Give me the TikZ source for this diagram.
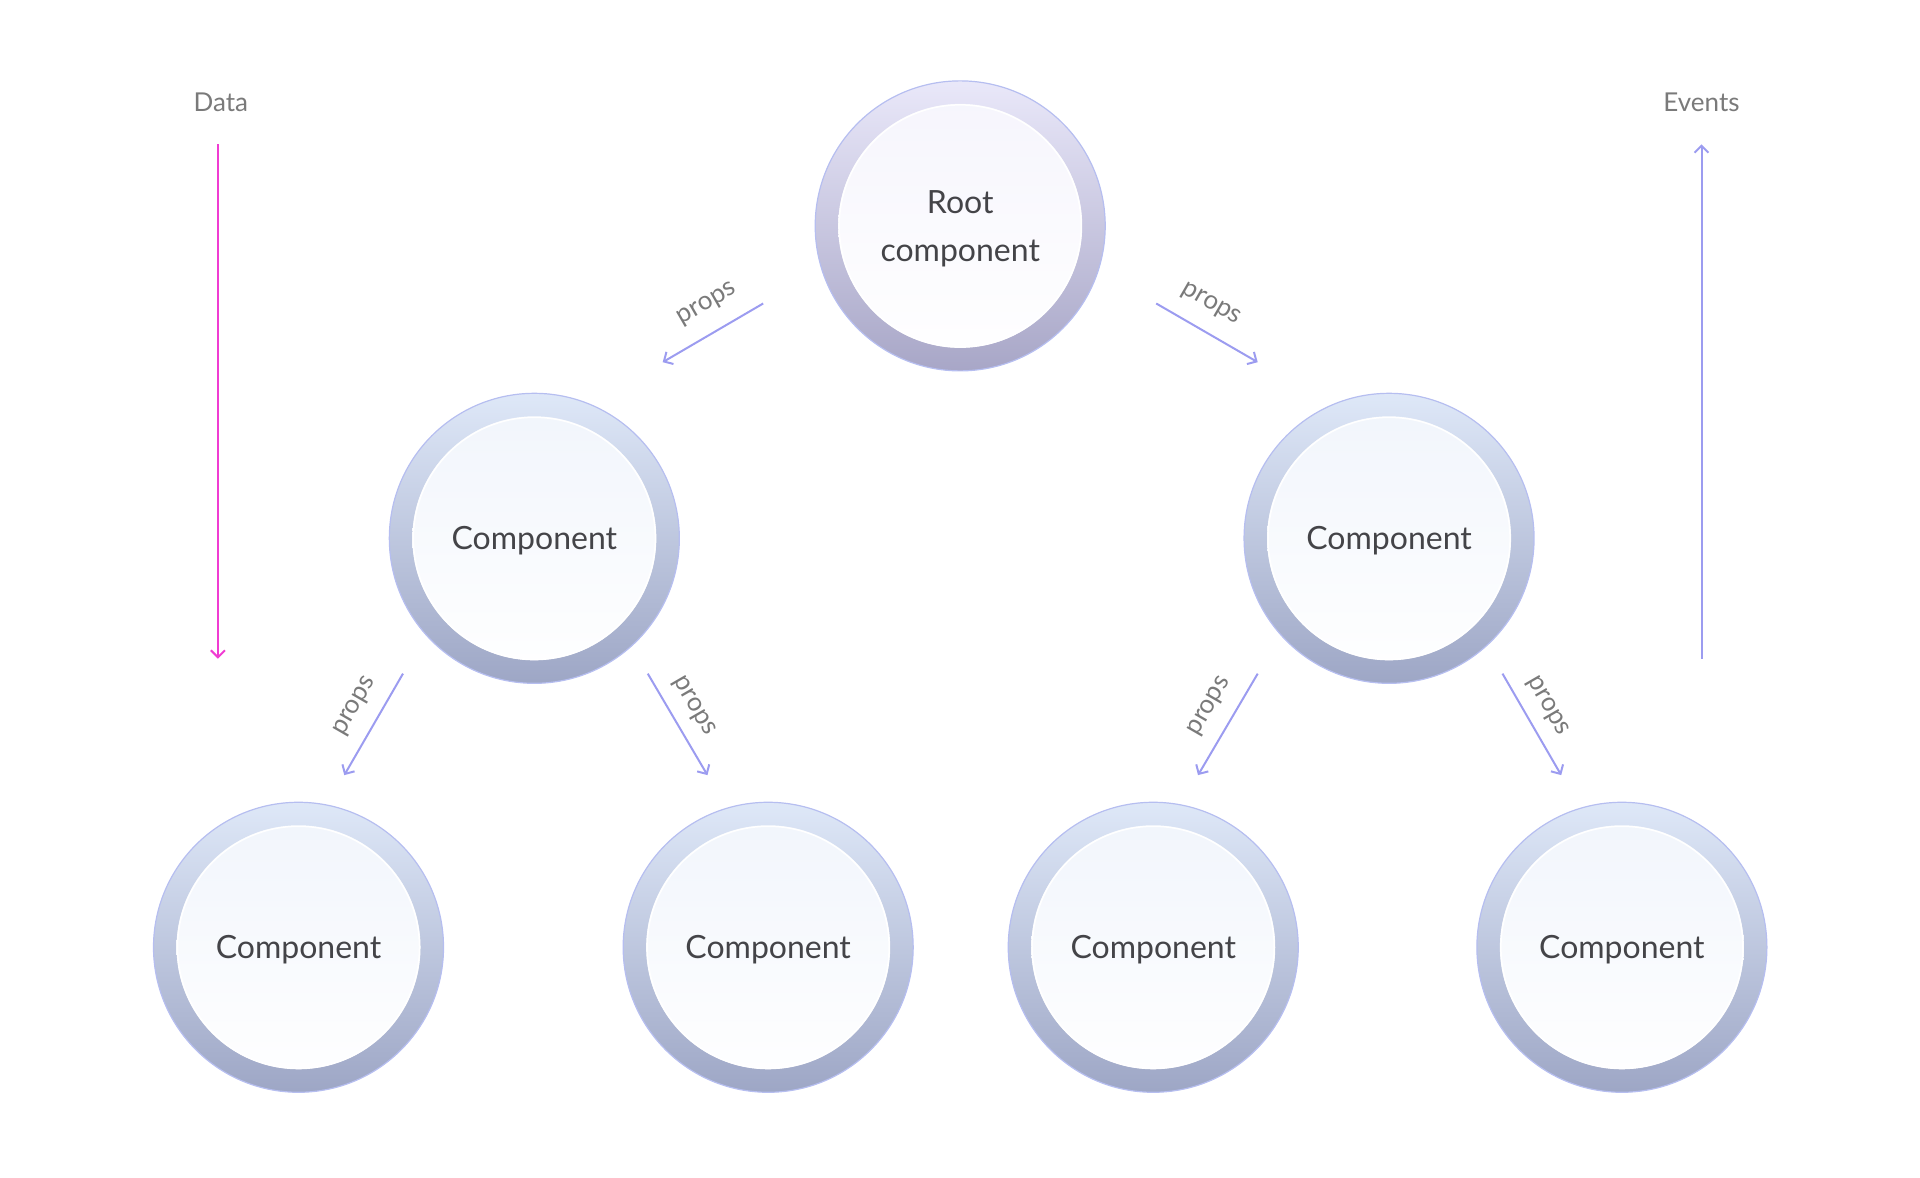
\documentclass[tikz,border=0pt]{standalone}
\usepackage{fontspec}
\setmainfont{Lato}
\usetikzlibrary{arrows.meta}
\definecolor{arr}{HTML}{9C9CF0}
\definecolor{mag}{HTML}{F03CD2}
\definecolor{lbl}{HTML}{7A7A7A}
\definecolor{txt}{HTML}{444448}
\definecolor{rim}{HTML}{B6BEF0}
\begin{document}
\begin{tikzpicture}[x=0.995pt,y=-0.995pt,
  comp/.style={circle,minimum size=290pt,draw=rim,line width=1.2pt,
     top color=#1!80!white,bottom color=#1!92!blue!80!black,text=txt,font=\fontsize{32}{40}\selectfont,align=center,
     path picture={\shade[top color=#1!35!white,bottom color=white] (path picture bounding box.center) circle (122pt);
       \draw[white,line width=1.5pt] (path picture bounding box.center) circle (121pt);},
     text depth=0pt, yshift=-2pt},
  a/.style={draw=arr,line width=2pt,-{Straight Barb[length=7pt,width=14pt]}},
  pl/.style={text=lbl,font=\fontsize{26}{30}\selectfont}]
\useasboundingbox (0,0) rectangle (1929.6,1182.9);
\definecolor{B}{HTML}{D6E2F6}
\definecolor{L}{HTML}{E4E2F8}
\node[comp=L,font=\fontsize{32}{48}\selectfont] (root) at (965,225) {Root\\component};
\node[comp=B] (m1) at (537,539) {Component};
\node[comp=B] (m2) at (1396,539) {Component};
\node[comp=B] (b1) at (300,950) {Component};
\node[comp=B] (b2) at (772,950) {Component};
\node[comp=B] (b3) at (1159,950) {Component};
\node[comp=B] (b4) at (1630,950) {Component};
\node[pl] (data) at (222,103) {Data};
\node[pl] (ev) at (1710,103) {Events};
\coordinate (d1) at (219,145); \coordinate (d2) at (219,662);
\coordinate (e1) at (1710,662); \coordinate (e2) at (1710,145);
\draw[a,draw=mag] (d1) -- (d2);
\draw[a] (e1) -- (e2);
\coordinate (p1) at (767,305); \coordinate (q1) at (666,364);
\coordinate (p2) at (1162,305); \coordinate (q2) at (1264,364);
\coordinate (p3) at (405,677); \coordinate (q3) at (346,779);
\coordinate (p4) at (651,677); \coordinate (q4) at (711,779);
\coordinate (p5) at (1264,677); \coordinate (q5) at (1204,779);
\coordinate (p6) at (1510,677); \coordinate (q6) at (1569,779);
\foreach \i in {1,...,6} \draw[a] (p\i) -- (q\i);
\node[pl,rotate=30] at (711,306) {props};
\node[pl,rotate=-30] at (1217,306) {props};
\node[pl,rotate=60] at (357,710) {props};
\node[pl,rotate=-60] at (697,710) {props};
\node[pl,rotate=60] at (1216,710) {props};
\node[pl,rotate=-60] at (1555,710) {props};
\end{tikzpicture}
\end{document}
